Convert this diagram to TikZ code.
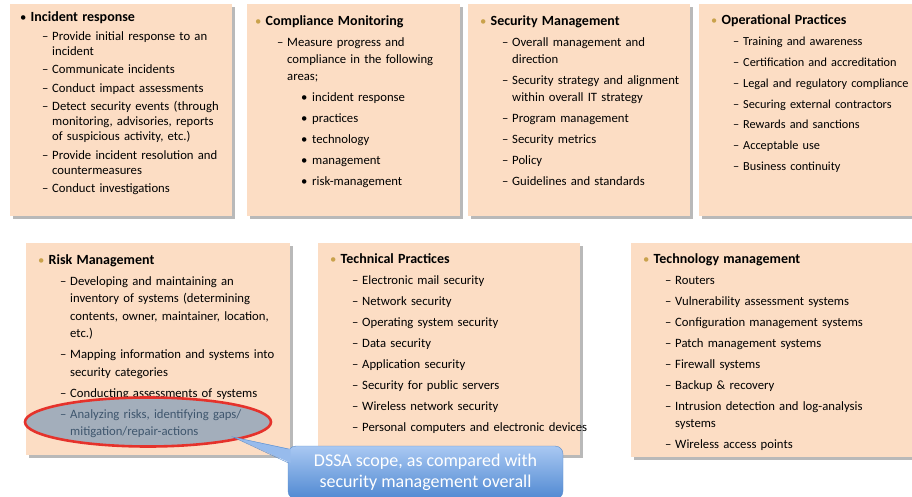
\documentclass[tikz,border=0pt]{standalone}
\usepackage{fontspec}
\setmainfont{Carlito}
\usetikzlibrary{positioning,shapes.geometric,shadows}
\definecolor{peach}{HTML}{FCDDC4}
\definecolor{gold}{HTML}{C9A24C}
\definecolor{ringred}{HTML}{E5322B}
\definecolor{scopefill}{HTML}{688FB6}
\definecolor{calltop}{HTML}{A9C8F2}
\definecolor{callbot}{HTML}{5089D2}
\definecolor{callline}{HTML}{5B8CCB}
\newlength\itemgap
\newcommand{\headsize}{\fontsize{14}{17}\selectfont}
\newcommand{\phead}[2]{\noindent\makebox[10.5pt][l]{\textcolor{#1}{\textbullet}}{\bfseries\headsize #2}\par}
\newcommand{\pitem}[1]{\par\vspace{\itemgap}\hangindent=32pt\hangafter=1\noindent\hspace*{22pt}\makebox[10pt][l]{\textendash}#1\par}
\newcommand{\psub}[1]{\par\vspace{\itemgap}\hangindent=57pt\hangafter=1\noindent\hspace*{46pt}\makebox[11pt][l]{\textbullet}#1\par}
\tikzset{
  panel/.style={fill=peach, anchor=north west, inner sep=0pt,
    drop shadow={shadow xshift=2.5pt, shadow yshift=-2.5pt, fill=black!50, opacity=0.55}},
  paneltext/.style={anchor=base west, inner sep=0pt, align=left, text width=320pt},
  smalltext/.style={font=\fontsize{12.7}{15}\selectfont\setlength{\itemgap}{3.5pt}},
  listtext/.style={font=\fontsize{12.7}{17}\selectfont\setlength{\itemgap}{4pt}},
  ringmark/.style={ellipse, draw=ringred, line width=2.6pt, fill=scopefill, fill opacity=0.6, inner sep=0pt},
  callout/.style={rounded corners=8pt, top color=calltop, bottom color=callbot, draw=callline,
    text=white, align=center, font=\fontsize{18}{21}\selectfont, inner sep=0pt},
}
\begin{document}
\begin{tikzpicture}[x=1pt, y=-1pt]
\useasboundingbox (0,0) rectangle (912,497);
% top row
\node[panel, minimum width=222, minimum height=212] (ir) at (10,4) {};
\node[panel, minimum width=213, minimum height=212] (cm) at (247,4) {};
\node[panel, minimum width=222, minimum height=212] (sm) at (468,4) {};
\node[panel, minimum width=230, minimum height=212] (op) at (699,4) {};
% bottom row
\node[panel, minimum width=264, minimum height=212] (rm) at (26,243) {};
\node[panel, minimum width=262, minimum height=212] (tp) at (318,243) {};
\node[panel, minimum width=290, minimum height=214] (tm) at (631,243) {};

\node[paneltext, smalltext] (ir-txt) at (20,22) {%
  \phead{black}{Incident response}
  \pitem{Provide initial response to an\newline incident}
  \pitem{Communicate incidents}
  \pitem{Conduct impact assessments}
  \pitem{Detect security events (through\newline monitoring, advisories, reports\newline of suspicious activity, etc.)}
  \pitem{Provide incident resolution and\newline countermeasures}
  \pitem{Conduct investigations}};
\node[paneltext, listtext] (cm-txt) at (255,26) {%
  \phead{gold}{Compliance Monitoring}
  \pitem{Measure progress and\newline compliance in the following\newline areas;}
  \psub{incident response}
  \psub{practices}
  \psub{technology}
  \psub{management}
  \psub{risk-management}};
\node[paneltext, listtext] (sm-txt) at (480,26) {%
  \phead{gold}{Security Management}
  \pitem{Overall management and\newline direction}
  \pitem{Security strategy and alignment\newline within overall IT strategy}
  \pitem{Program management}
  \pitem{Security metrics}
  \pitem{Policy}
  \pitem{Guidelines and standards}};
\node[paneltext, listtext, font=\fontsize{12.3}{17}\selectfont\setlength{\itemgap}{3.8pt}] (op-txt) at (711,25) {%
  \phead{gold}{Operational Practices}
  \pitem{Training and awareness}
  \pitem{Certification and accreditation}
  \pitem{Legal and regulatory compliance}
  \pitem{Securing external contractors}
  \pitem{Rewards and sanctions}
  \pitem{Acceptable use}
  \pitem{Business continuity}};
\node[paneltext, listtext, font=\fontsize{12.7}{17.5}\selectfont\setlength{\itemgap}{3.5pt}] (rm-txt) at (38,264) {%
  \phead{gold}{Risk Management}
  \pitem{Developing and maintaining an\newline inventory of systems (determining\newline contents, owner, maintainer, location,\newline etc.)}
  \pitem{Mapping information and systems into\newline security categories}
  \pitem{Conducting assessments of systems}
  \pitem{Analyzing risks, identifying gaps/\newline mitigation/repair-actions}};
\node[paneltext, listtext] (tp-txt) at (330,263) {%
  \phead{gold}{Technical Practices}
  \pitem{Electronic mail security}
  \pitem{Network security}
  \pitem{Operating system security}
  \pitem{Data security}
  \pitem{Application security}
  \pitem{Security for public servers}
  \pitem{Wireless network security}
  \pitem{Personal computers and electronic devices}};
\node[paneltext, listtext] (tm-txt) at (643,263) {%
  \phead{gold}{Technology management}
  \pitem{Routers}
  \pitem{Vulnerability assessment systems}
  \pitem{Configuration management systems}
  \pitem{Patch management systems}
  \pitem{Firewall systems}
  \pitem{Backup \& recovery}
  \pitem{Intrusion detection and log-analysis\newline systems}
  \pitem{Wireless access points}};

\node[ringmark, minimum width=246, minimum height=49] (gap-ring) at (148,422) {};
\node[callout, minimum width=275, minimum height=53] (dssa) at (425.5,472.5)
  {DSSA scope, as compared with\\security management overall};
\coordinate (tip) at (233,437);
\coordinate (pb1) at (288.5,449);
\coordinate (pb2) at (288.5,463);
\fill[calltop!80!callbot] (tip) -- ([xshift=2pt]pb1) -- ([xshift=2pt]pb2) -- cycle;
\draw[callline] (pb1) -- (tip) -- (pb2);
\end{tikzpicture}
\end{document}
